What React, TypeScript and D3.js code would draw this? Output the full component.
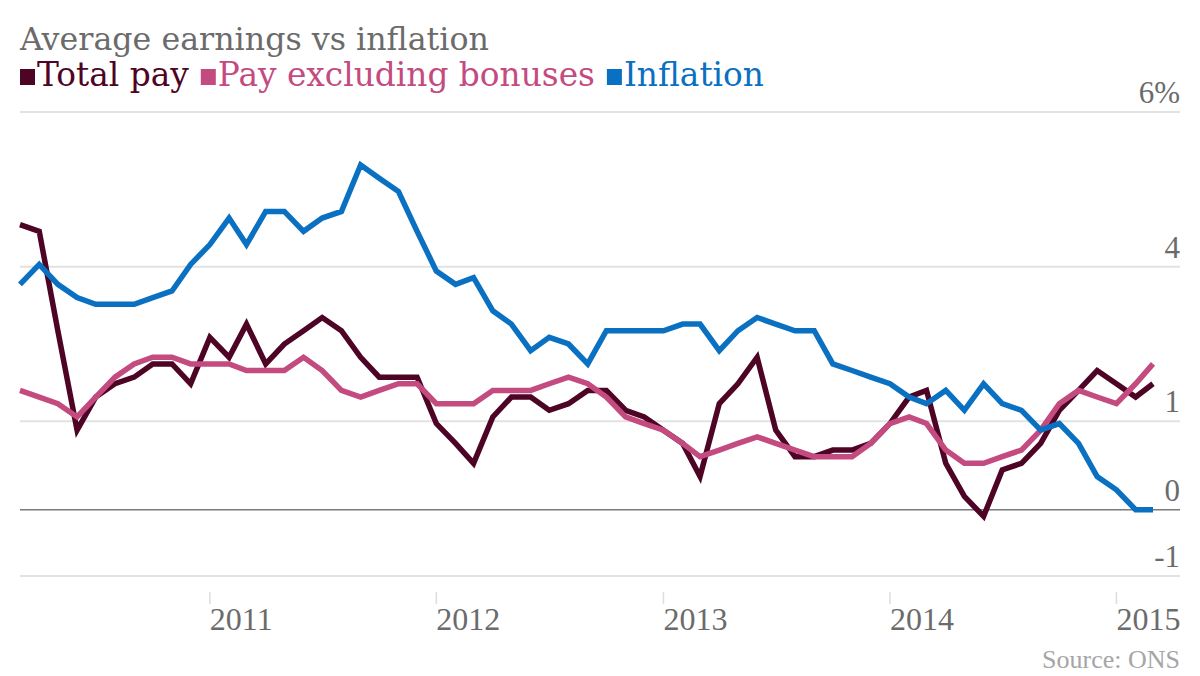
import { useEffect, useRef } from 'react';
import * as d3 from 'd3';

// Monthly, Mar 2010 to Mar 2015 (annual % growth)
const firstMonth = new Date(2010, 2, 1);
const lastMonth = new Date(2015, 2, 1);
const months = d3.timeMonth.range(firstMonth, d3.timeMonth.offset(lastMonth, 1));

const totalPay = [
  4.3, 4.2, 2.7, 1.2, 1.7, 1.9, 2.0, 2.2, 2.2, 1.9,
  2.6, 2.3, 2.8, 2.2, 2.5, 2.7, 2.9, 2.7, 2.3, 2.0, 2.0, 2.0,
  1.3, 1.0, 0.7, 1.4, 1.7, 1.7, 1.5, 1.6, 1.8, 1.8, 1.5, 1.4,
  1.2, 1.0, 0.5, 1.6, 1.9, 2.3, 1.2, 0.8, 0.8, 0.9, 0.9, 1.0,
  1.3, 1.7, 1.8, 0.7, 0.2, -0.1, 0.6, 0.7, 1.0, 1.5, 1.8, 2.1,
  1.9, 1.7, 1.9,
];

const regularPay = [
  1.8, 1.7, 1.6, 1.4, 1.7, 2.0, 2.2, 2.3, 2.3, 2.2,
  2.2, 2.2, 2.1, 2.1, 2.1, 2.3, 2.1, 1.8, 1.7, 1.8, 1.9, 1.9,
  1.6, 1.6, 1.6, 1.8, 1.8, 1.8, 1.9, 2.0, 1.9, 1.7, 1.4, 1.3,
  1.2, 1.0, 0.8, 0.9, 1.0, 1.1, 1.0, 0.9, 0.8, 0.8, 0.8, 1.0,
  1.3, 1.4, 1.3, 0.9, 0.7, 0.7, 0.8, 0.9, 1.2, 1.6, 1.8, 1.7,
  1.6, 1.9, 2.2,
];

const inflation = [
  3.4, 3.7, 3.4, 3.2, 3.1, 3.1, 3.1, 3.2, 3.3, 3.7,
  4.0, 4.4, 4.0, 4.5, 4.5, 4.2, 4.4, 4.5, 5.2, 5.0, 4.8, 4.2,
  3.6, 3.4, 3.5, 3.0, 2.8, 2.4, 2.6, 2.5, 2.2, 2.7, 2.7, 2.7,
  2.7, 2.8, 2.8, 2.4, 2.7, 2.9, 2.8, 2.7, 2.7, 2.2, 2.1, 2.0,
  1.9, 1.7, 1.6, 1.8, 1.5, 1.9, 1.6, 1.5, 1.2, 1.3, 1.0, 0.5,
  0.3, 0.0, 0.0,
];

const seriesNames = ['Total pay', 'Pay excluding bonuses', 'Inflation'];
const seriesColors = ['#4d0425', '#c44b80', '#0a70c1'];
const seriesValues = [totalPay, regularPay, inflation];

const yearTicks = [2011, 2012, 2013, 2014, 2015];

const W = 1200;
const H = 676;

export default function App() {
  const svgRef = useRef<SVGSVGElement>(null);

  useEffect(() => {
    if (!svgRef.current) return;
    const svg = d3.select(svgRef.current);
    svg.selectAll('*').remove();

    const left = 20;
    const right = 1180;

    const x = d3.scaleTime().domain([firstMonth, lastMonth]).range([20, 1153]);
    const y = d3.scaleLinear().domain([-1, 6]).range([576, 112]);

    const numFont = '"Liberation Serif", serif';
    const textFont = '"DejaVu Serif", serif';

    // Title
    svg.append('text')
      .attr('x', left)
      .attr('y', 50)
      .attr('font-family', textFont)
      .attr('font-size', 31.7)
      .attr('fill', '#6b6b6b')
      .text('Average earnings vs inflation');

    // Legend
    let lx = left;
    seriesNames.forEach((name, i) => {
      svg.append('rect')
        .attr('x', lx)
        .attr('y', 69)
        .attr('width', 15)
        .attr('height', 16)
        .attr('fill', seriesColors[i]);
      const t = svg.append('text')
        .attr('x', lx + 17)
        .attr('y', 86)
        .attr('font-family', textFont)
        .attr('font-size', 32.8)
        .attr('fill', seriesColors[i])
        .text(name);
      const w = (t.node() as SVGTextElement).getComputedTextLength();
      lx += 17 + w + 12;
    });

    // Grid lines: the domain split into three equal steps
    const gridValues = d3.range(4).map(i => 6 - (i * 7) / 3);
    svg.append('g')
      .selectAll('line')
      .data(gridValues)
      .join('line')
      .attr('x1', left)
      .attr('x2', right)
      .attr('y1', d => y(d))
      .attr('y2', d => y(d))
      .attr('stroke', '#e2e2e2')
      .attr('stroke-width', 2);

    // Zero baseline
    svg.append('line')
      .attr('x1', left)
      .attr('x2', right)
      .attr('y1', y(0))
      .attr('y2', y(0))
      .attr('stroke', '#7a7a7a')
      .attr('stroke-width', 1.6);

    // Y labels
    const yLabels = [...gridValues, 0];
    svg.append('g')
      .selectAll('text')
      .data(yLabels)
      .join('text')
      .attr('x', right)
      .attr('y', d => y(d) - 9)
      .attr('text-anchor', 'end')
      .attr('font-family', numFont)
      .attr('font-size', 31)
      .attr('fill', '#6b6b6b')
      .text(d => {
        const r = Math.round(d);
        return r === 6 ? '6%' : String(r);
      });

    // X axis ticks and labels
    const xt = svg.append('g');
    xt.selectAll('line')
      .data(yearTicks)
      .join('line')
      .attr('x1', d => x(new Date(d, 0, 1)))
      .attr('x2', d => x(new Date(d, 0, 1)))
      .attr('y1', 592)
      .attr('y2', 604)
      .attr('stroke', '#dddddd')
      .attr('stroke-width', 1.5);
    xt.selectAll('text')
      .data(yearTicks)
      .join('text')
      .attr('x', d => x(new Date(d, 0, 1)))
      .attr('y', 630)
      .attr('font-family', numFont)
      .attr('font-size', 32)
      .attr('fill', '#6b6b6b')
      .text(d => String(d));

    // Lines
    const line = d3.line<number>()
      .x((_, i) => x(months[i]))
      .y(d => y(d));

    seriesValues.forEach((vals, i) => {
      svg.append('path')
        .datum(vals)
        .attr('d', line)
        .attr('fill', 'none')
        .attr('stroke', seriesColors[i])
        .attr('stroke-width', 5.5)
        .attr('stroke-linejoin', 'miter')
        .attr('stroke-miterlimit', 3);
    });

    // Source
    svg.append('text')
      .attr('x', right)
      .attr('y', 668)
      .attr('text-anchor', 'end')
      .attr('font-family', numFont)
      .attr('font-size', 26)
      .attr('fill', '#a6a6a6')
      .text('Source: ONS');
  }, []);

  return (
    <svg
      ref={svgRef}
      width={W}
      height={H}
      style={{ display: 'block', position: 'absolute', left: 0, top: 0, background: '#fff' }}
    />
  );
}
